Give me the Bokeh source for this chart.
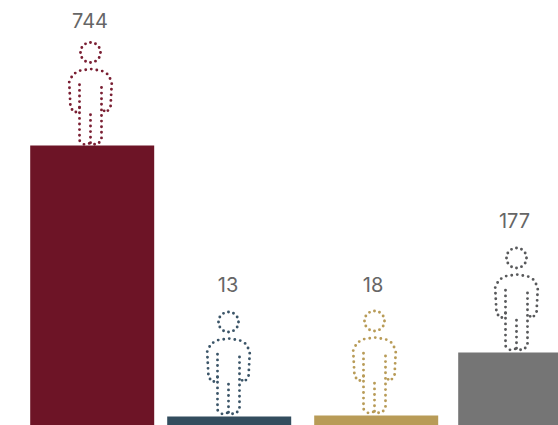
from bokeh.embed import file_html
from bokeh.resources import INLINE
from bokeh.plotting import figure
from bokeh.models import ColumnDataSource, Range1d
from bokeh.core.properties import value

# Data
labels = ["744", "13", "18", "177"]
bar_heights = [280, 9, 10, 73]          # drawn bar height on the chart's scale
bar_colors = ["#6d1426", "#334d5e", "#b89b57", "#757575"]
dot_colors = ["#7a1f33", "#3b5568", "#b89b57", "#58595b"]

# Layout (chart scale is one unit per pixel)
W, H = 558, 425
bar_centers = [91.7, 228.7, 375.7, 519.7]
bar_width = 124
person_centers = [90, 228, 374, 516]
label_centers = [89.5, 227.5, 372.5, 514]
person_lifts = [0, 1.5, 1.5, 1.5]
label_lifts = [125.5, 132.5, 131.5, 132.5]

# Pictogram outline relative to (centre, feet)
half_outer = [(-11, -37.7), (-15.3, -32.7), (-20, -37.7), (-21.3, -63.3), (-17.7, -71), (-11, -74.8), (0, -76.5)]
half_leg = [(-11, -60.7), (-11, -5), (-6, -0.7), (0, -2.5)]
centre_line = [(0, -30.7), (0, -2.5)]
head_dy = -93
head_size = 20


def mirrored(half):
    return half + [(-x, y) for x, y in reversed(half[:-1])]


parts = [mirrored(half_outer), mirrored(half_leg), centre_line]

p = figure(width=W, height=H, x_range=Range1d(0, W), y_range=Range1d(0, H),
           output_backend="svg", toolbar_location=None, min_border=0,
           border_fill_color="white", background_fill_color="white", outline_line_color=None)
p.axis.visible = False
p.grid.visible = False
p.styles = {"position": "absolute", "left": "0px", "top": "0px"}

p.vbar(x=bar_centers, top=bar_heights, bottom=0, width=bar_width, color=bar_colors, line_color=None)

xs, ys, cols, hx, hy = [], [], [], [], []
for cx, h, lift, col in zip(person_centers, bar_heights, person_lifts, dot_colors):
    base = h + lift
    for part in parts:
        xs.append([cx + dx for dx, dy in part])
        ys.append([base - dy for dx, dy in part])
        cols.append(col)
    hx.append(cx)
    hy.append(base - head_dy)

p.multi_line(xs=xs, ys=ys, line_color=cols, line_width=2.9, line_dash=value([0, 5.6]), line_cap="round", line_join="round")
p.scatter(x=hx, y=hy, size=head_size, marker="circle", fill_color=None, line_color=dot_colors,
          line_width=2.9, line_dash=value([0, 5.2]), line_cap="round")

src = ColumnDataSource(dict(x=label_centers, y=[h + l for h, l in zip(bar_heights, label_lifts)], t=labels))
p.text(x="x", y="y", text="t", source=src, text_font=value("Inter"), text_font_size="20px",
       text_color="#666666", text_align="center", text_baseline="middle")

open("out.html", "w").write(file_html(p, INLINE))
